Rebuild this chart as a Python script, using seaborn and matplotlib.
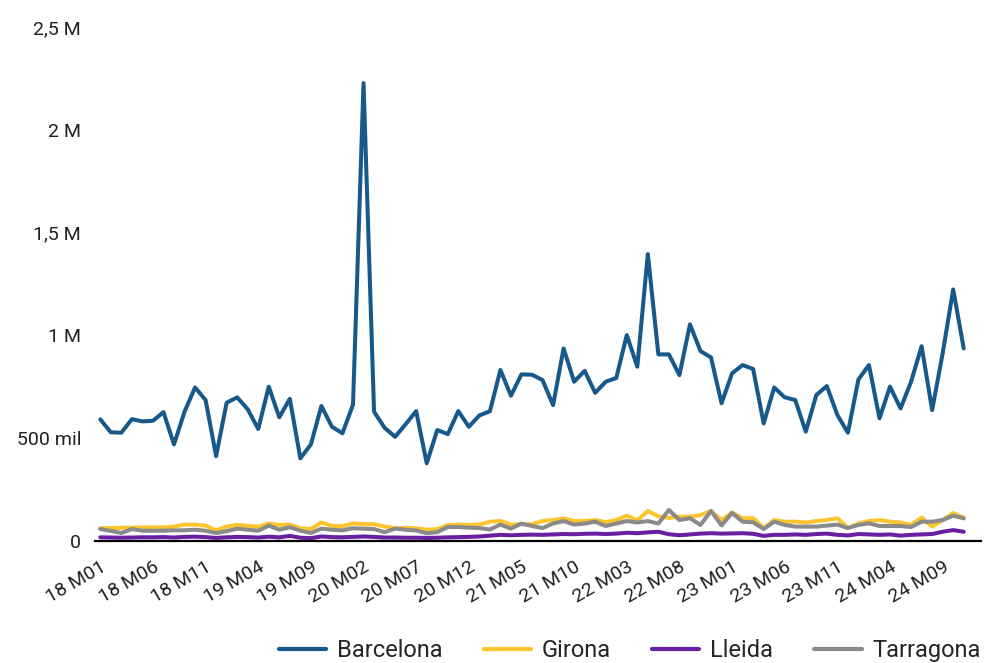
import numpy as np
import pandas as pd
import matplotlib
matplotlib.use("Agg")
import matplotlib.pyplot as plt
import seaborn as sns

# Monthly series, January 2018 to November 2024 (thousands)
months = [f"{y % 100:02d} M{m:02d}" for y in range(2018, 2025) for m in range(1, 13)][:83]

barcelona = [592, 529, 527, 593, 582, 585, 627, 470, 629, 747,
             686, 413, 673, 699, 641, 545, 751, 602, 692, 402,
             470, 657, 556, 524, 663, 2228, 629, 551, 507, 568,
             632, 378, 540, 520, 632, 556, 611, 631, 832, 707,
             811, 809, 783, 661, 937, 775, 828, 721, 775, 793,
             1002, 848, 1396, 908, 908, 807, 1054, 924, 893, 670,
             816, 856, 837, 572, 747, 699, 686, 532, 710, 754,
             613, 527, 786, 856, 597, 751, 645, 775, 948, 637,
             913, 1224, 937]

girona = [62, 63, 64, 65, 66, 66, 66, 70, 80, 80,
          75, 52, 70, 78, 74, 70, 85, 78, 80, 62,
          58, 90, 74, 72, 86, 82, 82, 70, 62, 64,
          62, 55, 58, 78, 80, 78, 80, 94, 97, 80,
          82, 82, 97, 102, 110, 97, 97, 102, 92, 102,
          123, 100, 146, 120, 112, 118, 118, 126, 146, 102,
          138, 111, 111, 63, 102, 94, 94, 90, 97, 102,
          111, 63, 86, 97, 102, 94, 90, 78, 114, 70,
          102, 136, 114]

lleida = [18, 17, 16, 17, 18, 18, 19, 17, 20, 21,
          19, 15, 18, 20, 19, 17, 21, 18, 25, 16,
          14, 22, 19, 18, 20, 22, 20, 17, 17, 16,
          16, 15, 16, 18, 19, 20, 22, 26, 30, 28,
          30, 31, 30, 32, 34, 33, 35, 36, 34, 36,
          40, 38, 42, 45, 33, 28, 32, 36, 38, 36,
          37, 38, 35, 25, 30, 30, 32, 30, 34, 36,
          30, 27, 34, 32, 30, 32, 26, 30, 32, 34,
          45, 53, 45]

tarragona = [58, 49, 39, 58, 50, 50, 50, 52, 52, 55,
             50, 39, 48, 60, 55, 50, 75, 55, 67, 50,
             39, 60, 55, 52, 62, 60, 58, 43, 60, 55,
             51, 38, 43, 68, 68, 65, 63, 56, 80, 60,
             85, 73, 63, 85, 97, 80, 85, 94, 73, 85,
             97, 90, 97, 85, 151, 102, 111, 78, 146, 76,
             136, 94, 91, 58, 94, 78, 70, 70, 70, 75,
             80, 63, 78, 86, 73, 73, 73, 68, 94, 94,
             102, 123, 110]

series_names = ["Barcelona", "Girona", "Lleida", "Tarragona"]
colors = ["#17598b", "#fcc52f", "#6a1fa3", "#8a8a8a"]

y_ticks = [0, 500, 1000, 1500, 2000, 2500]
y_tick_labels = ["0", "500 mil", "1 M", "1,5 M", "2 M", "2,5 M"]
x_tick_labels = ["18 M01", "18 M06", "18 M11", "19 M04", "19 M09", "20 M02",
                 "20 M07", "20 M12", "21 M05", "21 M10", "22 M03", "22 M08",
                 "23 M01", "23 M06", "23 M11", "24 M04", "24 M09"]

df = pd.DataFrame({"idx": np.arange(len(months)), "period": months,
                   "Barcelona": barcelona, "Girona": girona,
                   "Lleida": lleida, "Tarragona": tarragona})
long = df.melt(id_vars=["idx", "period"], value_vars=series_names,
               var_name="provincia", value_name="valor")

sns.set_style("white")
plt.rcParams["font.family"] = ["Roboto", "DejaVu Sans"]

fig = plt.figure(figsize=(9.95, 6.63), dpi=100)
ax = fig.add_axes([0.0955, 0.184, 0.89, 0.775])

sns.lineplot(data=long, x="idx", y="valor", hue="provincia",
             hue_order=series_names, palette=colors, linewidth=2.9,
             ax=ax, legend=False)

ax.set_xlim(-0.5, 83.6)
ax.set_ylim(0, 2500)
ax.set_yticks(y_ticks)
ax.set_yticklabels(y_tick_labels, fontsize=14, color="#222222")

tick_pos = [months.index(lbl) for lbl in x_tick_labels]
ax.set_xticks(tick_pos)
ax.set_xticklabels(x_tick_labels, fontsize=14, color="#222222",
                   rotation=30, ha="right", va="top", rotation_mode="anchor")
ax.tick_params(axis="both", length=0)
ax.tick_params(axis="x", pad=12)
ax.tick_params(axis="y", pad=10)
ax.set_xlabel("")
ax.set_ylabel("")

for side in ["left", "right", "top"]:
    ax.spines[side].set_visible(False)
ax.spines["bottom"].set_color("black")
ax.spines["bottom"].set_linewidth(1.6)
ax.grid(False)

handles = [plt.Line2D([], [], color=c, linewidth=3) for c in colors]
fig.legend(handles, series_names, loc="center", bbox_to_anchor=(0.633, 0.019),
           ncol=4, frameon=False, fontsize=17, handlelength=2.0,
           handletextpad=0.45, columnspacing=1.75)

fig.savefig("out.png", dpi=100)
